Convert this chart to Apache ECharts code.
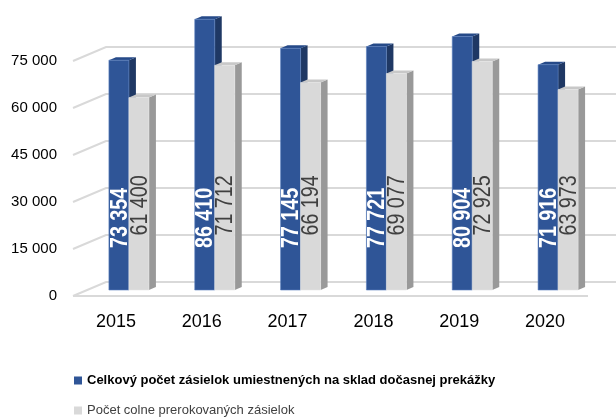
<!DOCTYPE html>
<html>
<head>
<meta charset="utf-8">
<script src="https://cdn.jsdelivr.net/npm/echarts@6/dist/echarts.min.js"></script>
<style>
  html, body { margin: 0; padding: 0; background: #fff; }
  #chart { width: 616px; height: 419px; }
</style>
</head>
<body>
<div id="chart"></div>
<script>
// chart data
var years = ['2015', '2016', '2017', '2018', '2019', '2020'];
var totalStored = [73354, 86410, 77145, 77721, 80904, 71916];
var clearedCustoms = [61400, 71712, 66194, 69077, 72925, 63973];
var yTicks = [0, 15000, 30000, 45000, 60000, 75000];
var seriesNames = [
  'Celkový počet zásielok umiestnených na sklad dočasnej prekážky',
  'Počet colne prerokovaných zásielok'
];

var FONT = '"Liberation Sans", Arial, sans-serif';

function fmt(v) {
  return String(v).replace(/\B(?=(\d{3})+(?!\d))/g, ' ');
}

// fake 3d: depth offsets in px
var DX = 7, DY = -3;
var BACK = [20, -8], FRONT = [-13, 6];

function barRenderer(left, colors, labelLevel, labelStyle) {
  return function (params, api) {
    var idx = api.value(0), val = api.value(1);
    var base = api.coord([idx, 0]);
    var top = api.coord([idx, val]);
    var w = api.size([1, 0])[0] * 0.233;
    var x = left ? base[0] - w : base[0];
    var yt = top[1], yb = base[1];
    var ly = api.coord([idx, labelLevel])[1];
    return {
      type: 'group',
      children: [
        { type: 'polygon', shape: { points: [[x + w, yt], [x + w + DX, yt + DY], [x + w + DX, yb + DY], [x + w, yb]] },
          style: { fill: colors[1] } },
        { type: 'polygon', shape: { points: [[x, yt], [x + DX, yt + DY], [x + w + DX, yt + DY], [x + w, yt]] },
          style: { fill: colors[2] } },
        { type: 'rect', shape: { x: x, y: yt, width: w, height: yb - yt },
          style: { fill: colors[0], stroke: colors[3], lineWidth: 0.6 } },
        // narrow look: squeeze the rotated label along its length
        { type: 'text', x: x + w / 2 + 1, y: ly, rotation: Math.PI / 2, scaleX: 0.82,
          style: Object.assign({ text: fmt(val), align: 'center', verticalAlign: 'middle', fontFamily: FONT }, labelStyle) }
      ]
    };
  };
}

function wallRenderer(params, api) {
  var v = api.value(1);
  var p = api.coord([0, v]);
  var cs = params.coordSys;
  var x0 = cs.x, y = p[1];
  var lineStyle = { stroke: '#d9d9d9', lineWidth: 2, fill: null };
  var children = [
    { type: 'polyline', shape: { points: [[x0 + FRONT[0], y + FRONT[1]], [x0 + BACK[0], y + BACK[1]], [640, y + BACK[1]]] },
      style: lineStyle }
  ];
  if (v === 0) {
    children.push({ type: 'line', shape: { x1: x0 + FRONT[0], y1: y + FRONT[1], x2: x0 + cs.width + FRONT[0], y2: y + FRONT[1] },
      style: lineStyle });
  }
  return { type: 'group', children: children };
}

var chart = echarts.init(document.getElementById('chart'), null, { renderer: 'canvas' });

var option = {
  animation: false,
  backgroundColor: '#fff',
  grid: [
    { left: 86, right: 15, top: 8, bottom: 129 },   // bar plane
    { left: 73, right: 28, top: 14, bottom: 123 }   // front plane (labels)
  ],
  xAxis: [
    { type: 'category', data: years, gridIndex: 0, show: false },
    { type: 'category', data: years, gridIndex: 1,
      axisLine: { show: false }, axisTick: { show: false },
      axisLabel: { margin: 17, fontSize: 18, color: '#000', fontFamily: FONT } }
  ],
  yAxis: [
    { type: 'value', gridIndex: 0, min: 0, max: 90000, interval: 15000, show: false },
    { type: 'value', gridIndex: 1, min: 0, max: 90000, interval: 15000,
      splitLine: { show: false }, axisLine: { show: false }, axisTick: { show: false },
      axisLabel: { margin: 16, fontSize: 15, color: '#000', fontFamily: FONT, showMaxLabel: false, formatter: fmt } }
  ],
  legend: {
    orient: 'vertical', left: 74, top: 374, height: 120, padding: 0,
    icon: 'rect', itemWidth: 8, itemHeight: 8, itemGap: 17,
    textStyle: { fontSize: 13, fontFamily: FONT, color: '#404040' },
    data: [
      { name: seriesNames[0], textStyle: { fontWeight: 'bold', color: '#000' } },
      { name: seriesNames[1] }
    ]
  },
  series: [
    {
      type: 'custom', name: 'walls', z: 1, silent: true,
      xAxisIndex: 0, yAxisIndex: 0,
      data: yTicks.map(function (v) { return [0, v]; }),
      renderItem: wallRenderer
    },
    {
      type: 'custom', name: seriesNames[0], z: 2,
      xAxisIndex: 0, yAxisIndex: 0,
      itemStyle: { color: '#2f5597' },
      data: totalStored.map(function (v, i) { return [i, v]; }),
      renderItem: barRenderer(true, ['#2f5597', '#1f3864', '#264a88', '#5b7fc0'], 23000,
        { fill: '#fff', fontSize: 24, fontWeight: 'bold' })
    },
    {
      type: 'custom', name: seriesNames[1], z: 3,
      xAxisIndex: 0, yAxisIndex: 0,
      itemStyle: { color: '#d9d9d9' },
      data: clearedCustoms.map(function (v, i) { return [i, v]; }),
      renderItem: barRenderer(false, ['#d9d9d9', '#999999', '#c8c8c8', '#e6e6e6'], 27000,
        { fill: '#404040', fontSize: 24 })
    }
  ]
};

chart.setOption(option);
</script>
</body>
</html>
